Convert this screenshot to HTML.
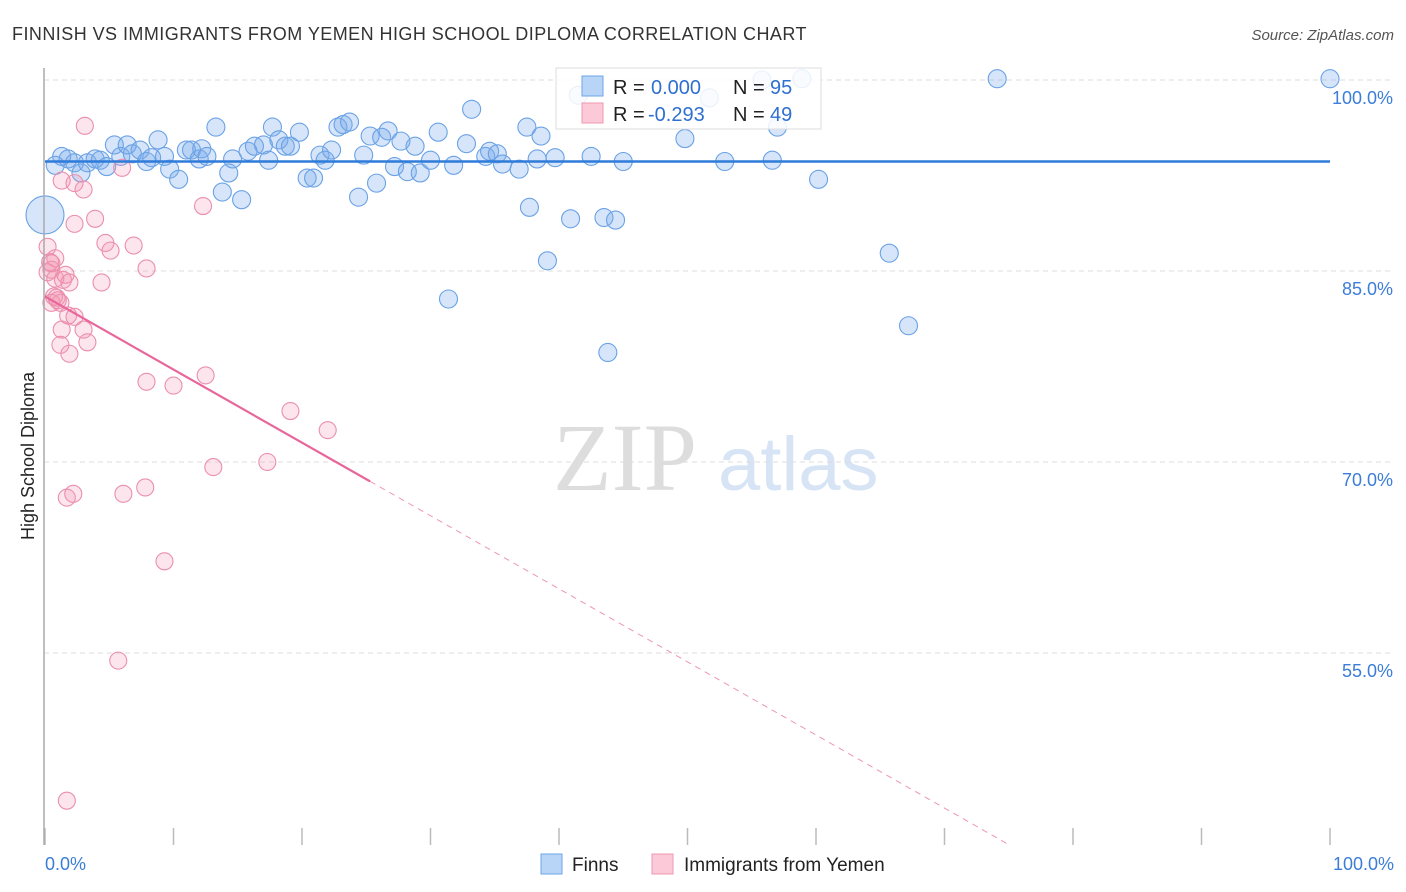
<!DOCTYPE html>
<html><head><meta charset="utf-8">
<style>
body{margin:0;background:#fff;font-family:"Liberation Sans",sans-serif;}
#wrap{position:relative;width:1406px;height:892px;overflow:hidden;}
</style></head>
<body>
<div id="wrap">
<svg id="svg" width="1406" height="892" xmlns="http://www.w3.org/2000/svg">
<text x="12" y="40" font-size="18" fill="#333" letter-spacing="0.45">FINNISH VS IMMIGRANTS FROM YEMEN HIGH SCHOOL DIPLOMA CORRELATION CHART</text>
<text x="1394" y="40" font-size="15" fill="#555" text-anchor="end" font-style="italic">Source: ZipAtlas.com</text>
<text x="553" y="490" font-size="96" fill="#ddd" font-family="Liberation Serif,serif">ZIP</text>
<text x="718" y="490" font-size="76" fill="#d6e4f5">atlas</text>
<text transform="translate(34,456) rotate(-90)" font-size="18" fill="#222" text-anchor="middle">High School Diploma</text>
<g id="grid"></g><g id="pts"></g><g id="lines"></g>
<line x1="44" y1="68" x2="44" y2="845" stroke="#aaa" stroke-width="1.5"/>
<g>
<rect x="556" y="68" width="265" height="61" fill="#fff" fill-opacity="0.85" stroke="#ddd"/>
<rect x="582" y="76" width="21" height="20" fill="#b8d4f6" stroke="#6ea4e8"/>
<rect x="582" y="103" width="21" height="20" fill="#fcc9d8" stroke="#ee98b2"/>
<text x="613" y="94" font-size="20" fill="#222">R = </text><text x="651" y="94" font-size="20" fill="#2f6fd0">0.000</text>
<text x="733" y="94" font-size="20" fill="#222">N = </text><text x="770" y="94" font-size="20" fill="#2f6fd0">95</text>
<text x="613" y="121" font-size="20" fill="#222">R = </text><text x="648" y="121" font-size="20" fill="#2f6fd0">-0.293</text>
<text x="733" y="121" font-size="20" fill="#222">N = </text><text x="770" y="121" font-size="20" fill="#2f6fd0">49</text>
</g>
<text x="45" y="870" font-size="18" fill="#3b7dd8">0.0%</text>
<text x="1394" y="870" font-size="18" fill="#3b7dd8" text-anchor="end">100.0%</text>
<g><rect x="541" y="854" width="21" height="20" fill="#b8d4f6" stroke="#6ea4e8"/><text x="572" y="871" font-size="19" fill="#222">Finns</text></g>
<g><rect x="652" y="854" width="21" height="20" fill="#fcc9d8" stroke="#ee98b2"/><text x="684" y="871" font-size="19" fill="#222">Immigrants from Yemen</text></g>
</svg>
</div>
<script>
const yTicks=[100,85,70,55];
const yTickLabels=["100.0%","85.0%","70.0%","55.0%"];
const xTicks=[0,10,20,30,40,50,60,70,80,90,100];
const finnsX=[0.8,1.3,1.8,2.3,2.8,3.3,3.9,4.3,4.8,5.4,5.9,6.4,6.8,7.4,7.9,8.3,8.8,9.3,9.7,10.4,11.0,11.4,12.0,12.2,12.6,13.3,13.8,14.3,14.6,15.3,15.8,16.3,17.0,17.4,17.7,18.2,18.7,19.1,19.8,20.4,20.9,21.4,21.8,22.3,22.8,23.2,23.7,24.4,24.8,25.3,25.8,26.2,26.7,27.2,27.7,28.2,28.8,29.2,30.0,30.6,31.4,31.8,32.8,33.2,34.3,34.6,35.2,35.6,36.9,37.5,37.7,38.3,38.6,39.1,39.7,40.9,41.5,42.5,43.5,43.8,44.4,45.0,49.8,51.7,52.9,55.8,56.6,57.0,58.9,60.2,65.7,67.2,74.1,100];
const finnsY=[93.3,94.0,93.8,93.5,92.7,93.5,93.8,93.7,93.2,94.9,94.0,94.9,94.2,94.5,93.6,93.9,95.3,94.0,93.0,92.2,94.5,94.5,93.8,94.6,94.0,96.3,91.2,92.7,93.8,90.6,94.4,94.8,94.9,93.7,96.3,95.3,94.8,94.8,95.9,92.3,92.3,94.1,93.7,94.5,96.3,96.5,96.7,90.8,94.1,95.6,91.9,95.5,96.0,93.2,95.2,92.8,94.8,92.7,93.7,95.9,82.8,93.3,95.0,97.7,94.0,94.4,94.2,93.4,93.0,96.3,90.0,93.8,95.6,85.8,93.9,89.1,98.8,94.0,89.2,78.6,89.0,93.6,95.4,98.6,93.6,100.0,93.7,96.3,100.1,92.2,86.4,80.7,100.1,100.1];
const finnsBigX=[0];
const finnsBigY=[89.4];
const yemenX=[0.2,0.4,0.8,0.2,0.5,0.8,1.4,1.6,1.9,0.7,0.5,0.9,1.2,1.8,2.3,1.3,3.0,3.3,1.2,1.9,3.1,1.3,2.3,3.0,3.9,2.3,4.7,5.1,6.9,7.9,4.4,6.0,12.3,7.9,10.0,12.5,19.1,22.0,13.1,17.3,1.7,2.2,6.1,7.8,9.3,5.7,1.7,0.5,1.0];
const yemenY=[86.9,85.7,86.0,84.9,85.1,84.4,84.3,84.7,84.1,83.0,82.5,82.9,82.5,81.5,81.4,80.4,80.4,79.4,79.2,78.5,96.4,92.1,91.9,91.4,89.1,88.7,87.2,86.6,87.0,85.2,84.1,93.1,90.1,76.3,76.0,76.8,74.0,72.5,69.6,70.0,67.2,67.5,67.5,68.0,62.2,54.4,43.4,85.6,82.7];
const finnsTrend=[93.6,93.6];
const yemenTrendStart=83.0, yemenSlope=-0.574, yemenSolidEnd=25.3, yemenDashEnd=75.1;

const NS="http://www.w3.org/2000/svg";
const xS=v=>45+v*12.85;
const yS=v=>80+(100-v)*12.733;
function mk(tag,attrs,parent){const e=document.createElementNS(NS,tag);for(const k in attrs)e.setAttribute(k,attrs[k]);parent.appendChild(e);return e;}
const grid=document.getElementById('grid'),pts=document.getElementById('pts'),lines=document.getElementById('lines'),svg=document.getElementById('svg');
yTicks.forEach((t,i)=>{
  const l=mk('line',{x1:44,x2:1394,y1:yS(t),y2:yS(t),stroke:'#ddd','stroke-dasharray':'5,4'},grid);
  
  
  const tx=mk('text',{x:1393,y:yS(t)+24,'font-size':18,fill:'#3b7dd8','text-anchor':'end'},svg);
  tx.textContent=yTickLabels[i];
  
  
});
xTicks.forEach(t=>{
  const l=mk('line',{x1:xS(t),x2:xS(t),y1:828,y2:845,stroke:'#bbb','stroke-width':1.5},grid);
  
  
});
finnsX.forEach((x,i)=>{
  const c=mk('circle',{cx:xS(x),cy:yS(finnsY[i]),r:9,fill:'rgba(120,170,235,0.3)',stroke:'#6aa2e6','stroke-width':1.1},pts);
  
  
});
finnsBigX.forEach((x,i)=>{
  const c=mk('circle',{cx:xS(x),cy:yS(finnsBigY[i]),r:19,fill:'rgba(120,170,235,0.3)',stroke:'#6aa2e6','stroke-width':1.1},pts);
  
  
});
yemenX.forEach((x,i)=>{
  const c=mk('circle',{cx:xS(x),cy:yS(yemenY[i]),r:8.5,fill:'rgba(245,150,180,0.25)',stroke:'#eb8fae','stroke-width':1.1},pts);
  
  
});
const bl=mk('line',{x1:xS(0),x2:xS(100),y1:yS(finnsTrend[0]),y2:yS(finnsTrend[1]),stroke:'#2f7bd9','stroke-width':2.5},lines);


const py=v=>yemenTrendStart+yemenSlope*v;
const pl=mk('line',{x1:xS(0),x2:xS(yemenSolidEnd),y1:yS(py(0)),y2:yS(py(yemenSolidEnd)),stroke:'#e8679a','stroke-width':2.2},lines);


const pd=mk('line',{x1:xS(yemenSolidEnd),x2:xS(yemenDashEnd),y1:yS(py(yemenSolidEnd)),y2:yS(py(yemenDashEnd)),stroke:'#e8679a','stroke-width':1,'stroke-dasharray':'6,5','opacity':0.7},lines);


</script>
</body></html>
